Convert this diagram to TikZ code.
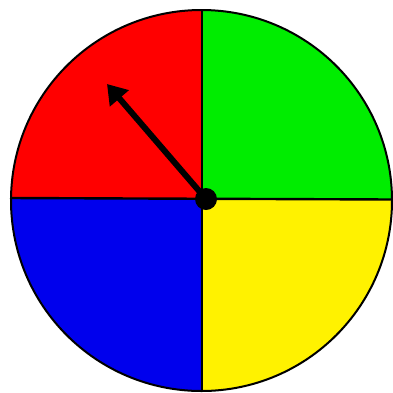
\documentclass[tikz,border=0pt]{standalone}
\usetikzlibrary{arrows.meta}
\begin{document}
\begin{tikzpicture}[x=1pt,y=-1pt,
  divider/.style={line width=2.4pt,black},
  rim/.style={line width=2pt,black},
  pointer/.style={line width=6pt,black,-{Triangle[length=19pt,width=24pt]}}]
\useasboundingbox (0,0) rectangle (393,392);
\coordinate (c) at (202,199);
\begin{scope}
  \clip (201.5,200.5) circle (190.5);
  \fill[red] (0,0) rectangle (202,199);
  \fill[green!93!black] (202,0) rectangle (393,199);
  \fill[blue!93!black] (0,199) rectangle (202,392);
  \fill[yellow] (202,199) rectangle (393,392);
\end{scope}
\draw[divider] (202,9) -- (202,391);
\draw[divider] (10,198) -- (393,199.5);
\draw[rim] (201.5,200.5) circle (190.5);
\node[circle,fill=black,inner sep=0pt,minimum size=22pt] (hub) at (206,199) {};
\coordinate (tip) at (107,84);
\draw[pointer] (hub.center) -- (tip);
\end{tikzpicture}
\end{document}
